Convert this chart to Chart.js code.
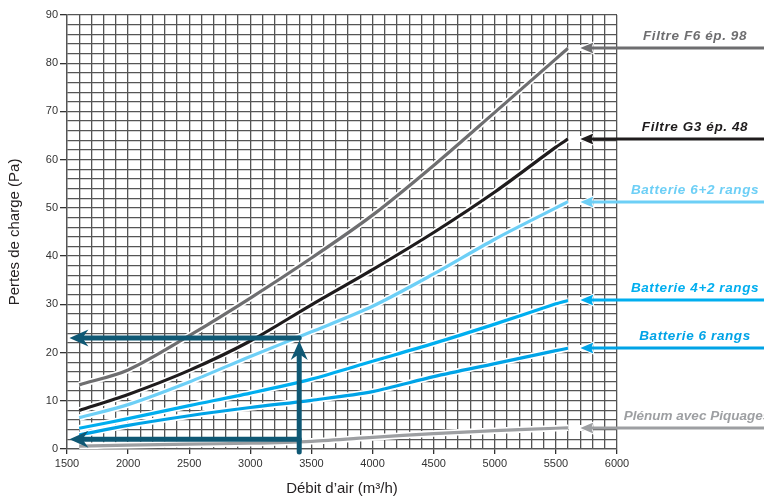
<!DOCTYPE html>
<html>
<head>
<meta charset="utf-8">
<script src="https://cdn.jsdelivr.net/npm/chart.js@4.4.1/dist/chart.umd.min.js"></script>
<style>
  html, body { margin: 0; padding: 0; background: #fff; }
  #wrap { width: 764px; height: 500px; position: relative; }
</style>
</head>
<body>
<div id="wrap"><canvas id="c" width="764" height="500"></canvas></div>
<script>
// ---- Data ----
const flow      = [1600, 2000, 2500, 3000, 3500, 4000, 4500, 5000, 5500, 5600];
const filtreF6  = [13.3, 16.4, 23.5, 31.3, 39.6, 48.5, 58.8, 69.8, 80.9, 83.1];
const filtreG3  = [8.0, 11.3, 16.3, 22.4, 29.9, 37.2, 44.9, 53.3, 62.6, 64.3];
const batt62    = [6.5, 9.2, 13.9, 19.2, 24.3, 29.6, 36.3, 43.5, 50.0, 51.3];
const batt42    = [4.3, 6.3, 9.0, 11.6, 14.5, 18.2, 21.9, 25.9, 30.1, 30.8];
const batt6     = [2.9, 4.9, 6.9, 8.6, 10.1, 11.9, 15.0, 17.7, 20.4, 20.9];
const plenum    = [0.6, 0.8, 1.0, 1.2, 1.6, 2.4, 3.2, 3.8, 4.3, 4.4];
const seriesNames = ['Filtre F6 ép. 98', 'Filtre G3 ép. 48', 'Batterie 6+2 rangs',
                     'Batterie 4+2 rangs', 'Batterie 6 rangs', 'Plénum avec Piquages'];
const xTicks = [1500, 2000, 2500, 3000, 3500, 4000, 4500, 5000, 5500, 6000];
const yTicks = [0, 10, 20, 30, 40, 50, 60, 70, 80, 90];
// reading example
const readFlow = 3400;
const readLoss = 23;
const readBase = 2;

// ---- Styles ----
const seriesValues = [filtreF6, filtreG3, batt62, batt42, batt6, plenum];
const seriesColors = ['#6e6e70', '#1f1c1d', '#6dcff6', '#00aeef', '#00a3e6', '#9d9fa2'];
const labelShift = [0, 0, 0, 0, 0, 2];
const labelSpacing = ['0.6px', '0.6px', '0.6px', '0.6px', '0.6px', '0px'];
const readColor = '#0f5874';
const gridColor = '#555555';
const pointerTipFlow = 5700;
const readTipFlow = 1520;

const datasets = [];
seriesValues.forEach((vals, i) => {
  datasets.push({
    label: seriesNames[i],
    data: flow.map((f, k) => ({ x: f, y: vals[k] })),
    borderColor: seriesColors[i],
    borderWidth: 3.2,
    pointRadius: 0,
    tension: 0.3,
    fill: false,
    order: 0
  });
  datasets.push({
    label: '_halo' + i,
    data: flow.map((f, k) => ({ x: f, y: vals[k] })),
    borderColor: '#ffffff',
    borderWidth: 6.5,
    pointRadius: 0,
    tension: 0.3,
    fill: false,
    order: 1
  });
});

function head(ctx, tx, ty, ang, len, half, notch) {
  const c = Math.cos(ang), s = Math.sin(ang);
  const pt = (a, b) => [tx + a * c - b * s, ty + a * s + b * c];
  const p1 = pt(len, -half), p2 = pt(len - notch, 0), p3 = pt(len, half);
  ctx.beginPath();
  ctx.moveTo(tx, ty);
  ctx.lineTo(p1[0], p1[1]);
  ctx.lineTo(p2[0], p2[1]);
  ctx.lineTo(p3[0], p3[1]);
  ctx.closePath();
}

const annot = {
  id: 'annot',
  afterDatasetsDraw(chart) {
    const { ctx, scales: { x, y } } = chart;
    ctx.save();
    seriesValues.forEach((vals, i) => {
      const col = seriesColors[i];
      const py = Math.round(y.getPixelForValue(vals[vals.length - 1]));
      const xEnd = x.getPixelForValue(flow[flow.length - 1]);
      const xTip = x.getPixelForValue(pointerTipFlow);
      ctx.strokeStyle = '#fff';
      ctx.lineWidth = 6;
      ctx.lineCap = 'butt';
      ctx.beginPath(); ctx.moveTo(xEnd + 0.5, py); ctx.lineTo(xTip + 2, py); ctx.stroke();
      head(ctx, xTip, py, 0, 13, 5.5, 2);
      ctx.lineWidth = 2; ctx.strokeStyle = '#fff'; ctx.lineJoin = 'miter';
      ctx.stroke();
      ctx.fillStyle = col; ctx.fill();
      ctx.strokeStyle = col; ctx.lineWidth = 3.2;
      ctx.beginPath(); ctx.moveTo(xTip + 10, py); ctx.lineTo(chart.width + 5, py); ctx.stroke();
      ctx.font = 'italic bold 13.5px "Liberation Sans", Arial, sans-serif';
      try { ctx.letterSpacing = labelSpacing[i]; } catch (e) {}
      ctx.fillStyle = col;
      ctx.textAlign = 'center';
      ctx.textBaseline = 'middle';
      ctx.fillText(seriesNames[i], chart.width - 69 + labelShift[i], py - 12);
      try { ctx.letterSpacing = '0px'; } catch (e) {}
    });

    const xr = x.getPixelForValue(readFlow);
    const yTop = y.getPixelForValue(readLoss);
    const yBase = y.getPixelForValue(readBase);
    const yBottom = y.getPixelForValue(-0.6);
    const xLeft = x.getPixelForValue(readTipFlow);
    ctx.strokeStyle = readColor; ctx.fillStyle = readColor;
    ctx.lineWidth = 5; ctx.lineCap = 'round'; ctx.lineJoin = 'round';
    ctx.beginPath(); ctx.moveTo(xr, yTop); ctx.lineTo(xLeft + 12, yTop); ctx.stroke();
    head(ctx, xLeft, yTop, 0, 19, 8.5, 6); ctx.fill();
    ctx.beginPath(); ctx.moveTo(xr, yBase); ctx.lineTo(xLeft + 12, yBase); ctx.stroke();
    head(ctx, xLeft, yBase, 0, 19, 8.5, 6); ctx.fill();
    const yUpTip = yTop + 3;
    ctx.beginPath(); ctx.moveTo(xr, yBottom); ctx.lineTo(xr, yUpTip + 12); ctx.stroke();
    head(ctx, xr, yUpTip, Math.PI / 2, 19, 8.5, 6); ctx.fill();
    ctx.restore();
  }
};

new Chart(document.getElementById('c'), {
  type: 'line',
  data: { datasets },
  options: {
    responsive: false,
    animation: false,
    events: [],
    layout: { padding: { left: 0, right: 147, top: 15, bottom: 0 } },
    plugins: { legend: { display: false }, tooltip: { enabled: false } },
    scales: {
      x: {
        type: 'linear',
        min: 1500, max: 6000,
        afterFit: s => { s.height = 51; },
        ticks: {
          stepSize: 100, autoSkip: false, maxRotation: 0, padding: 3,
          color: '#333', font: { family: '"Liberation Sans", Arial, sans-serif', size: 11 },
          callback: v => xTicks.includes(v) ? String(v) : ''
        },
        grid: {
          color: gridColor, lineWidth: 1.3, tickLength: 5,
          tickColor: c => (c.tick && xTicks.includes(c.tick.value)) ? '#333' : 'rgba(0,0,0,0)'
        },
        border: { color: gridColor, width: 1.3 },
        title: {
          display: true, text: 'Débit d’air (m³/h)', color: '#231f20',
          font: { family: '"Liberation Sans", Arial, sans-serif', size: 15 },
          padding: { top: 0, bottom: 2 }
        }
      },
      y: {
        type: 'linear',
        min: 0, max: 90,
        afterFit: s => { s.width = 67; },
        ticks: {
          stepSize: 2, autoSkip: false, padding: 2,
          color: '#333', font: { family: '"Liberation Sans", Arial, sans-serif', size: 11 },
          callback: v => yTicks.includes(v) ? String(v) : ''
        },
        grid: {
          color: gridColor, lineWidth: 1.3, tickLength: 7,
          tickColor: c => (c.tick && yTicks.includes(c.tick.value)) ? '#333' : 'rgba(0,0,0,0)'
        },
        border: { color: gridColor, width: 1.3 },
        title: {
          display: true, text: 'Pertes de charge (Pa)', color: '#231f20',
          font: { family: '"Liberation Sans", Arial, sans-serif', size: 15 },
          padding: { top: 6, bottom: 0 }
        }
      }
    }
  },
  plugins: [annot]
});
</script>
</body>
</html>
